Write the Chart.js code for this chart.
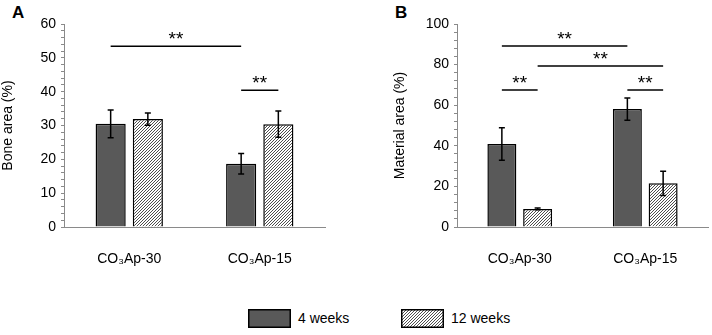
<!DOCTYPE html>
<html>
<head>
<meta charset="utf-8">
<script src="https://cdn.jsdelivr.net/npm/chart.js@4.4.1/dist/chart.umd.min.js"></script>
<style>
  body { margin: 0; background: #fff; width: 712px; height: 335px; position: relative; overflow: hidden;
         font-family: "Liberation Sans", Arial, sans-serif; }
  .panel { position: absolute; top: 0; height: 290px; }
  #wrapA { left: 0; width: 335px; }
  #wrapB { left: 360px; width: 352px; }
  .letter { position: absolute; top: 4px; font-size: 17px; line-height: 17px; font-weight: bold; }
  .legend { position: absolute; top: 309px; font-size: 14px; line-height: 19px; }
  .legend canvas { position: absolute; left: 0; top: 0; }
  .legend span { position: absolute; left: 50px; top: 0; white-space: nowrap; }
</style>
</head>
<body>
<div class="letter" style="left:12px">A</div>
<div class="letter" style="left:395px">B</div>
<div class="panel" id="wrapA"><canvas id="chartA"></canvas></div>
<div class="panel" id="wrapB"><canvas id="chartB"></canvas></div>
<div class="legend" style="left:248px"><canvas id="swatch4" width="43" height="19"></canvas><span>4 weeks</span></div>
<div class="legend" style="left:401px"><canvas id="swatch12" width="43" height="19"></canvas><span>12 weeks</span></div>
<script>
// values (mean and error)
const categories = ['CO₃Ap-30', 'CO₃Ap-15'];
const seriesNames = ['4 weeks', '12 weeks'];

const bone4 = [30.5, 18.7];
const bone4Err = [4.1, 3.0];
const bone12 = [31.9, 30.4];
const bone12Err = [1.8, 3.9];

const material4 = [40.9, 58.1];
const material4Err = [8.0, 5.5];
const material12 = [8.9, 21.5];
const material12Err = [0.4, 6.0];

// significance brackets: [dataset, index, dataset, index, level]
const boneSig = [[0, 0, 0, 1, 53.4], [0, 1, 1, 1, 40.4]];
const materialSig = [[0, 0, 0, 1, 89.2], [1, 0, 1, 1, 79.3], [0, 0, 1, 0, 67.5], [0, 1, 1, 1, 67.5]];

const FONT = '"Liberation Sans", Arial, sans-serif';
const DARK = '#595959';

function hatchPattern() {
    const c = document.createElement('canvas');
    c.width = c.height = 3;
    const g = c.getContext('2d');
    g.fillStyle = '#fff';
    g.fillRect(0, 0, 3, 3);
    g.strokeStyle = '#3a3a3a';
    g.lineWidth = 0.9;
    g.beginPath();
    g.moveTo(0, 3); g.lineTo(3, 0);
    g.moveTo(-1, 1); g.lineTo(1, -1);
    g.moveTo(2, 4); g.lineTo(4, 2);
    g.stroke();
    return g.createPattern(c, 'repeat');
}

function errorBars(errors) {
    return {
        id: 'errorBars',
        afterDatasetsDraw(chart) {
            const { ctx, scales: { y } } = chart;
            ctx.save();
            ctx.strokeStyle = '#000';
            ctx.lineWidth = 1.5;
            errors.forEach((errs, di) => {
                chart.getDatasetMeta(di).data.forEach((bar, i) => {
                    const v = chart.data.datasets[di].data[i];
                    const top = y.getPixelForValue(v + errs[i]);
                    const bot = y.getPixelForValue(v - errs[i]);
                    ctx.beginPath();
                    ctx.moveTo(bar.x, top); ctx.lineTo(bar.x, bot);
                    ctx.moveTo(bar.x - 3, top); ctx.lineTo(bar.x + 3, top);
                    ctx.moveTo(bar.x - 3, bot); ctx.lineTo(bar.x + 3, bot);
                    ctx.stroke();
                });
            });
            ctx.restore();
        }
    };
}

function sigBrackets(list) {
    return {
        id: 'sigBrackets',
        afterDatasetsDraw(chart) {
            const { ctx, scales: { y } } = chart;
            ctx.save();
            ctx.strokeStyle = '#000';
            ctx.fillStyle = '#000';
            ctx.lineWidth = 1.5;
            ctx.font = '19px ' + FONT;
            ctx.textAlign = 'center';
            ctx.textBaseline = 'alphabetic';
            list.forEach(([d1, i1, d2, i2, level]) => {
                const x1 = chart.getDatasetMeta(d1).data[i1].x;
                const x2 = chart.getDatasetMeta(d2).data[i2].x;
                const py = y.getPixelForValue(level);
                ctx.beginPath();
                ctx.moveTo(x1, py); ctx.lineTo(x2, py);
                ctx.stroke();
                ctx.fillText('**', (x1 + x2) / 2, py - 1);
            });
            ctx.restore();
        }
    };
}

function makeChart(id, v4, v12, errs4, errs12, sig, yMax, step, major, title, axisWidth, titlePad, padRight) {
    const ctx = document.getElementById(id).getContext('2d');
    return new Chart(ctx, {
        type: 'bar',
        data: {
            labels: categories,
            datasets: [
                { label: seriesNames[0], data: v4, backgroundColor: DARK, borderColor: '#000', borderWidth: 1.5 },
                { label: seriesNames[1], data: v12, backgroundColor: hatchPattern(), borderColor: '#000', borderWidth: 1.5 }
            ]
        },
        options: {
            responsive: true,
            maintainAspectRatio: false,
            animation: false,
            categoryPercentage: 0.57,
            barPercentage: 0.81,
            layout: { padding: { top: 24, right: padRight, left: 0, bottom: 0 } },
            plugins: { legend: { display: false }, tooltip: { enabled: false } },
            scales: {
                x: {
                    afterFit: s => { s.height = 63; },
                    grid: { display: false },
                    border: { color: '#8a8a8a', width: 1 },
                    ticks: { color: '#000', font: { family: FONT, size: 14 }, padding: 16, maxRotation: 0 }
                },
                y: {
                    min: 0,
                    max: yMax,
                    afterFit: s => { s.width = axisWidth; },
                    ticks: {
                        stepSize: step,
                        autoSkip: false,
                        padding: 5,
                        color: '#000',
                        font: { family: FONT, size: 14 },
                        callback: v => (v % major === 0 ? v : '')
                    },
                    grid: { drawOnChartArea: false, tickLength: 3, color: '#8a8a8a', lineWidth: 1 },
                    border: { color: '#8a8a8a', width: 1 },
                    title: { display: true, text: title, color: '#000', font: { family: FONT, size: 14 }, padding: { top: titlePad, bottom: 0 } }
                }
            }
        },
        plugins: [errorBars([errs4, errs12]), sigBrackets(sig)]
    });
}

makeChart('chartA', bone4, bone12, bone4Err, bone12Err, boneSig, 60, 2, 10, 'Bone area (%)', 64, 0, 10);
makeChart('chartB', material4, material12, material4Err, material12Err, materialSig, 100, 4, 20, 'Material area (%)', 97, 32, 4);

// legend swatches
const s4 = document.getElementById('swatch4').getContext('2d');
s4.fillStyle = DARK; s4.fillRect(0, 0, 43, 19);
s4.strokeStyle = '#000'; s4.lineWidth = 1.5; s4.strokeRect(0.75, 0.75, 41.5, 17.5);
const s12 = document.getElementById('swatch12').getContext('2d');
s12.fillStyle = hatchPattern(); s12.fillRect(0, 0, 43, 19);
s12.strokeStyle = '#000'; s12.lineWidth = 1.5; s12.strokeRect(0.75, 0.75, 41.5, 17.5);
</script>
</body>
</html>
